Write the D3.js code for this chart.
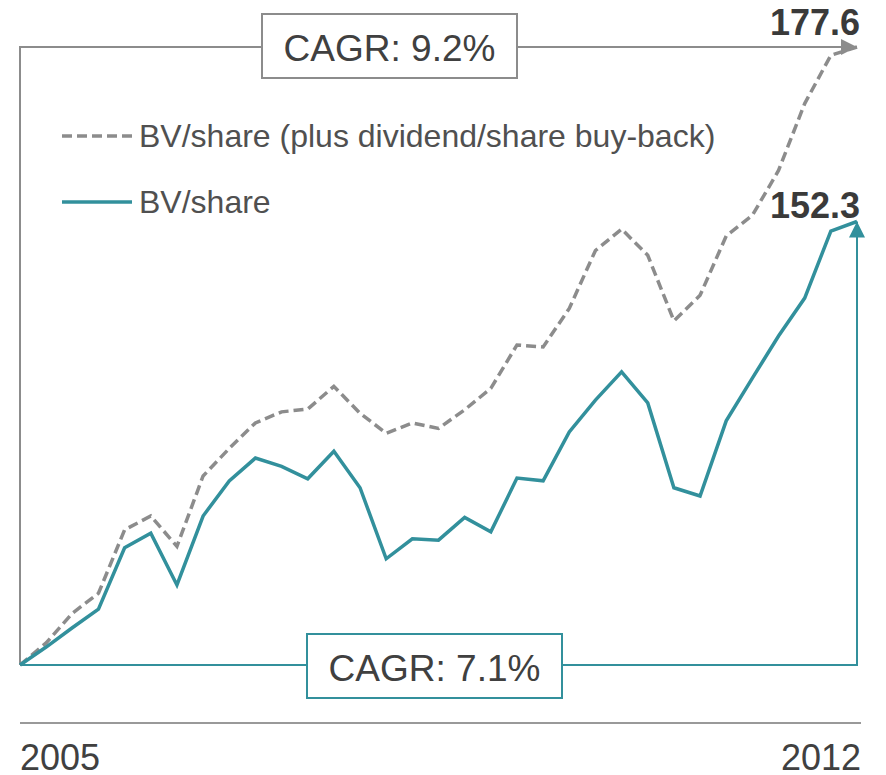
<!DOCTYPE html>
<html>
<head>
<meta charset="utf-8">
<script src="https://cdn.jsdelivr.net/npm/d3@7"></script>
<style>
  body { margin: 0; background: #fff; }
  text { font-family: "Liberation Sans", Arial, sans-serif; }
</style>
</head>
<body>
<svg id="chart" width="886" height="775"></svg>
<script>
// quarterly index values, 2005 -> 2012
var bvShare = [88.0, 90.6, 93.4, 96.1, 105.0, 107.1, 99.6, 109.6, 114.7, 118.0, 116.8,
               115.0, 119.0, 113.7, 103.4, 106.3, 106.1, 109.4, 107.3, 115.1, 114.7,
               121.8, 126.4, 130.5, 126.0, 113.7, 112.5, 123.4, 129.6, 135.7, 141.2,
               150.9, 152.3];
var bvSharePlus = [88.0, 91.2, 95.5, 98.4, 107.6, 109.6, 105.2, 115.4, 119.4, 123.1, 124.7,
                   125.1, 128.4, 124.5, 121.6, 123.1, 122.3, 125.0, 128.1, 134.4, 134.1,
                   139.7, 148.1, 151.2, 147.4, 137.9, 141.6, 150.2, 153.2, 159.7, 169.4,
                   176.4, 177.6];
var yearLabels = ["2005", "2012"];
var legendLabels = ["BV/share (plus dividend/share buy-back)", "BV/share"];
var cagrLabels = ["CAGR: 9.2%", "CAGR: 7.1%"];

var teal = "#32909c",
    grey = "#8c8c8c",
    textCol = "#404040";

var svg = d3.select("#chart");

var x = d3.scaleLinear()
    .domain([0, bvShare.length - 1])
    .range([20, 857]);

var y = d3.scaleLinear()
    .domain([88, 177.6])
    .range([665, 47]);

var line = d3.line()
    .x(function(d, i) { return x(i); })
    .y(function(d) { return y(d); });

var defs = svg.append("defs");
function marker(id, col) {
    defs.append("marker")
        .attr("id", id)
        .attr("viewBox", "0 0 10 10")
        .attr("refX", 10).attr("refY", 5)
        .attr("markerUnits", "userSpaceOnUse")
        .attr("markerWidth", 16).attr("markerHeight", 16)
        .attr("orient", "auto")
        .append("path")
        .attr("d", "M0,0 L10,5 L0,10 z")
        .attr("fill", col);
}
marker("arrGrey", grey);
marker("arrTeal", teal);

var x0 = x(0), x1 = x(bvShare.length - 1), yBase = y(bvShare[0]);

// grey bracket (top)
var yTop = y(bvSharePlus[bvSharePlus.length - 1]);
svg.append("path")
    .attr("d", "M" + x0 + "," + yBase + " L" + x0 + "," + yTop + " L" + x1 + "," + yTop)
    .attr("fill", "none")
    .attr("stroke", grey)
    .attr("stroke-width", 2)
    .attr("marker-end", "url(#arrGrey)");

// teal bracket (bottom)
var yEnd = y(bvShare[bvShare.length - 1]);
svg.append("path")
    .attr("d", "M" + x0 + "," + yBase + " L" + x1 + "," + yBase + " L" + x1 + "," + yEnd)
    .attr("fill", "none")
    .attr("stroke", teal)
    .attr("stroke-width", 2)
    .attr("marker-end", "url(#arrTeal)");

// data lines
svg.append("path")
    .datum(bvSharePlus)
    .attr("d", line)
    .attr("fill", "none")
    .attr("stroke", grey)
    .attr("stroke-width", 3.5)
    .attr("stroke-dasharray", "10,5");

svg.append("path")
    .datum(bvShare)
    .attr("d", line)
    .attr("fill", "none")
    .attr("stroke", teal)
    .attr("stroke-width", 3.5);

// CAGR boxes
function cagrBox(label, bx, by, col) {
    svg.append("rect")
        .attr("x", bx).attr("y", by)
        .attr("width", 255).attr("height", 64)
        .attr("fill", "#fff")
        .attr("stroke", col)
        .attr("stroke-width", 2);
    svg.append("text")
        .attr("x", bx + 127.5).attr("y", by + 47)
        .attr("text-anchor", "middle")
        .attr("font-size", 37)
        .attr("fill", textCol)
        .text(label);
}
cagrBox(cagrLabels[0], 262, 14, grey);
cagrBox(cagrLabels[1], 307, 634, teal);

// end values
svg.append("text")
    .attr("x", 860).attr("y", 35)
    .attr("text-anchor", "end")
    .attr("font-size", 36).attr("font-weight", "bold")
    .attr("fill", "#3a3a3a")
    .text(d3.format(".1f")(bvSharePlus[bvSharePlus.length - 1]));
svg.append("text")
    .attr("x", 860).attr("y", 218)
    .attr("text-anchor", "end")
    .attr("font-size", 36).attr("font-weight", "bold")
    .attr("fill", "#3a3a3a")
    .text(d3.format(".1f")(bvShare[bvShare.length - 1]));

// legend
var leg = svg.append("g");
leg.append("line")
    .attr("x1", 62).attr("x2", 132).attr("y1", 136).attr("y2", 136)
    .attr("stroke", grey).attr("stroke-width", 3.5)
    .attr("stroke-dasharray", "10,5");
leg.append("text")
    .attr("x", 139).attr("y", 147)
    .attr("font-size", 32).attr("fill", "#505050")
    .text(legendLabels[0]);
leg.append("line")
    .attr("x1", 62).attr("x2", 132).attr("y1", 202).attr("y2", 202)
    .attr("stroke", teal).attr("stroke-width", 3.5);
leg.append("text")
    .attr("x", 139).attr("y", 213)
    .attr("font-size", 32).attr("fill", "#505050")
    .text(legendLabels[1]);

// bottom axis
svg.append("line")
    .attr("x1", 20).attr("x2", 861).attr("y1", 723).attr("y2", 723)
    .attr("stroke", "#999").attr("stroke-width", 2);
svg.append("text")
    .attr("x", 20).attr("y", 770)
    .attr("font-size", 36).attr("fill", textCol)
    .text(yearLabels[0]);
svg.append("text")
    .attr("x", 861).attr("y", 770)
    .attr("text-anchor", "end")
    .attr("font-size", 36).attr("font-weight", "normal").attr("fill", textCol)
    .text(yearLabels[1]);
</script>
</body>
</html>
